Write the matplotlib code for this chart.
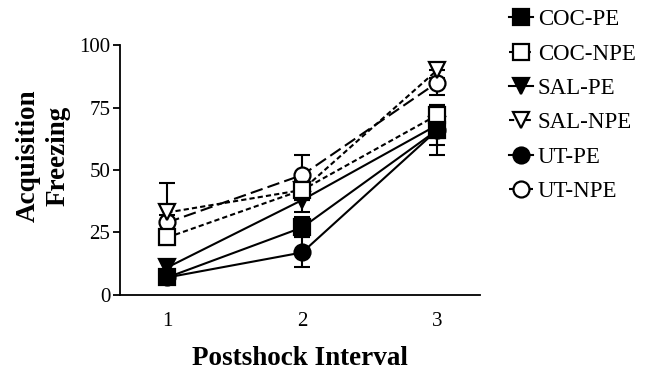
import matplotlib
matplotlib.use("Agg")
import matplotlib.pyplot as plt

# ─── DATA ────────────────────────────────────────────────────
intervals = [1, 2, 3]
tick_labels = ["1", "2", "3"]

groups = ["COC-PE", "COC-NPE", "SAL-PE", "SAL-NPE", "UT-PE", "UT-NPE"]

coc_pe   = [7, 27, 66]
coc_npe  = [23, 42, 72]
sal_pe   = [11, 38, 68]
sal_npe  = [33, 42, 90]
ut_pe    = [7, 17, 66]
ut_npe   = [29, 48, 85]

coc_pe_err  = [2, 4, 6]
coc_npe_err = [3, 4, 4]
sal_pe_err  = [3, 5, 5]
sal_npe_err = [12, 4, 3]
ut_pe_err   = [2, 6, 10]
ut_npe_err  = [3, 8, 5]

# ─── STYLE ───────────────────────────────────────────────────
plt.rcParams['font.family'] = ['Liberation Serif', 'DejaVu Serif']

SHORT = (0, (2.5, 1.5))
LONG  = (0, (6, 2.5))

styles = {
    "COC-PE":  dict(marker='s', mfc='black', ls='-'),
    "COC-NPE": dict(marker='s', mfc='white', ls=SHORT),
    "SAL-PE":  dict(marker='v', mfc='black', ls='-'),
    "SAL-NPE": dict(marker='v', mfc='white', ls=SHORT),
    "UT-PE":   dict(marker='o', mfc='black', ls='-'),
    "UT-NPE":  dict(marker='o', mfc='white', ls=LONG),
}

series = {
    "COC-PE":  (coc_pe, coc_pe_err),
    "COC-NPE": (coc_npe, coc_npe_err),
    "SAL-PE":  (sal_pe, sal_pe_err),
    "SAL-NPE": (sal_npe, sal_npe_err),
    "UT-PE":   (ut_pe, ut_pe_err),
    "UT-NPE":  (ut_npe, ut_npe_err),
}

fig = plt.figure(figsize=(6.47, 3.71), dpi=100)
ax = fig.add_axes([0.1855, 0.205, 0.557, 0.6735])

LW = 1.5
MS = 11.5
MEW = 1.6

# lines first, then error bars, then markers on top
for name in groups:
    y, e = series[name]
    ax.plot(intervals, y, color='black', lw=LW, ls=styles[name]['ls'], zorder=2)

for name in groups:
    y, e = series[name]
    ax.errorbar(intervals, y, yerr=e, fmt='none', ecolor='black',
                elinewidth=LW, capsize=5.5, capthick=LW, zorder=3)

handles = {}
for i, name in enumerate(reversed(groups)):
    y, e = series[name]
    st = styles[name]
    ax.plot(intervals, y, ls='none', marker=st['marker'], ms=MS,
            mfc=st['mfc'], mec='black', mew=MEW, zorder=4 + i)
    handles[name] = plt.Line2D([], [], color='black', lw=LW, ls=st['ls'],
                               marker=st['marker'], ms=MS, mfc=st['mfc'],
                               mec='black', mew=MEW)

ax.set_xlim(0.65, 3.32)
ax.set_ylim(0, 100)
ax.set_xticks(intervals)
ax.set_xticklabels(tick_labels)
ax.set_yticks([0, 25, 50, 75, 100])
ax.tick_params(axis='x', length=0, pad=12, labelsize=15)
ax.tick_params(axis='y', length=5, width=1.3, pad=2, labelsize=15)

for side in ['top', 'right']:
    ax.spines[side].set_visible(False)
for side in ['left', 'bottom']:
    ax.spines[side].set_linewidth(1.3)

ax.set_xlabel("Postshock Interval", fontsize=19.5, fontweight='bold', labelpad=11)
# y label sits a bit above the axis centre in the original
fig.text(43 / 647, 1 - 156 / 371, "Acquisition\nFreezing", rotation=90,
         ha='center', va='center', multialignment='center',
         fontsize=19.5, fontweight='bold', linespacing=1.25)

fig.legend([handles[g] for g in groups], groups, loc='upper left',
           bbox_to_anchor=(0.773, 1.0), frameon=False, fontsize=16.5,
           handlelength=1.05, handletextpad=0.2, labelspacing=0.58,
           borderaxespad=0)

fig.savefig("out.png", dpi=100)
